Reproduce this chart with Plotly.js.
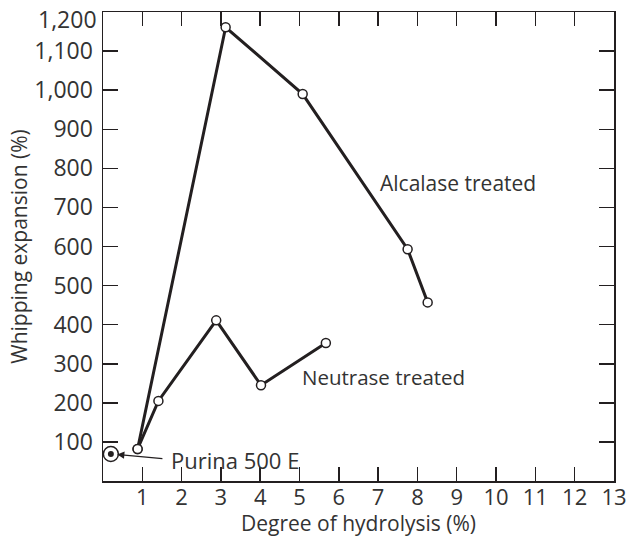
<!DOCTYPE html>
<html>
<head>
<meta charset="utf-8">
<script src="https://cdn.plot.ly/plotly-3.0.1.min.js"></script>
<style>html,body{margin:0;padding:0;background:#fff;}#chart{width:636px;height:537px;}</style>
</head>
<body>
<div id="chart"></div>
<script>
// Alcalase treated series
const alcalaseX = [0.88, 3.12, 5.08, 7.75, 8.26];
const alcalaseY = [82, 1161, 990, 593, 457];
// Neutrase treated series
const neutraseX = [0.88, 1.41, 2.88, 4.02, 5.67];
const neutraseY = [82, 205, 411, 245, 353];
// Purina 500 E reference point
const purinaX = [0.2];
const purinaY = [69];
// Tick labels
const xTickVals = [1,2,3,4,5,6,7,8,9,10,11,12,13];
const xTickText = ["1","2","3","4","5","6","7","8","9","10","11","12","13"];
const yTickVals = [100,200,300,400,500,600,700,800,900,1000,1100,1200];
const yTickText = ["100","200","300","400","500","600","700","800","900","1,000","1,100","1,200"];

const ink = '#231f20';
const txt = '#333333';
const fontFam = '"Open Sans", "Liberation Sans", sans-serif';

const lineStyle = {color: ink, width: 3};
const openMarker = {symbol: 'circle', size: 9, color: '#ffffff', line: {color: ink, width: 1.5}};

const traces = [
  {x: alcalaseX, y: alcalaseY, mode: 'lines+markers', line: lineStyle, marker: openMarker, cliponaxis: false, hoverinfo: 'skip'},
  {x: neutraseX, y: neutraseY, mode: 'lines+markers', line: lineStyle, marker: openMarker, cliponaxis: false, hoverinfo: 'skip'},
  {x: purinaX, y: purinaY, mode: 'markers', marker: {symbol: 'circle', size: 15, color: '#ffffff', line: {color: ink, width: 1.5}}, cliponaxis: false, hoverinfo: 'skip'},
  {x: purinaX, y: purinaY, mode: 'markers', marker: {symbol: 'circle', size: 6, color: ink, line: {width: 0}}, cliponaxis: false, hoverinfo: 'skip'}
];

// top label (1,200) sits slightly below the top edge in the reference, so draw it as an annotation
const topIdx = yTickVals.length - 1;
const yTickTextShown = yTickText.map((t, i) => i === topIdx ? '' : t);

const layout = {
  width: 636, height: 537,
  margin: {l: 103, r: 22, t: 12, b: 56, pad: 0},
  paper_bgcolor: '#ffffff', plot_bgcolor: '#ffffff',
  showlegend: false,
  font: {family: fontFam, color: txt, size: 22},
  xaxis: {
    range: [0, 13.001], tickvals: xTickVals, ticktext: xTickText,
    ticks: 'inside', ticklen: 14, tickwidth: 1.5, tickcolor: ink,
    showline: true, linecolor: ink, linewidth: 1.5, mirror: 'ticks',
    showgrid: false, zeroline: false,
    tickfont: {size: 22, color: txt, family: fontFam},
    ticklabelstandoff: -4, ticklabeloverflow: 'allow',
    title: {text: 'Degree of hydrolysis (%)', font: {size: 21, color: txt, family: fontFam}, standoff: 11}
  },
  yaxis: {
    range: [0, 1200.01], tickvals: yTickVals, ticktext: yTickTextShown,
    ticks: 'inside', ticklen: 15, tickwidth: 1.5, tickcolor: ink,
    showline: true, linecolor: ink, linewidth: 1.5, mirror: 'ticks',
    showgrid: false, zeroline: false,
    tickfont: {size: 23, color: txt, family: fontFam},
    ticklabelstandoff: 4, ticklabeloverflow: 'allow',
    title: {text: 'Whipping expansion (%)', font: {size: 21, color: txt, family: fontFam}, standoff: 1}
  },
  annotations: [
    {x: 0, y: yTickVals[topIdx], xref: 'paper', yref: 'y', xshift: -4, yshift: -7, text: yTickText[topIdx], showarrow: false, xanchor: 'right', yanchor: 'middle', font: {size: 23, color: txt, family: fontFam}},
    {x: 7.0, y: 762, xref: 'x', yref: 'y', text: 'Alcalase treated', showarrow: false, xanchor: 'left', yanchor: 'middle', font: {size: 21, color: txt, family: fontFam}},
    {x: 5.0, y: 266, xref: 'x', yref: 'y', text: 'Neutrase treated', showarrow: false, xanchor: 'left', yanchor: 'middle', font: {size: 20.5, color: txt, family: fontFam}},
    {x: 1.68, y: 55, xref: 'x', yref: 'y', text: 'Purina 500 E', showarrow: false, xanchor: 'left', yanchor: 'middle', font: {size: 22, color: txt, family: fontFam}},
    {x: 0.36, y: 68, xref: 'x', yref: 'y', ax: 1.55, ay: 57, axref: 'x', ayref: 'y', text: '', showarrow: true, arrowhead: 2, arrowsize: 1.2, arrowwidth: 1.2, arrowcolor: ink}
  ]
};

Plotly.newPlot('chart', traces, layout, {displayModeBar: false, staticPlot: true});
</script>
</body>
</html>
